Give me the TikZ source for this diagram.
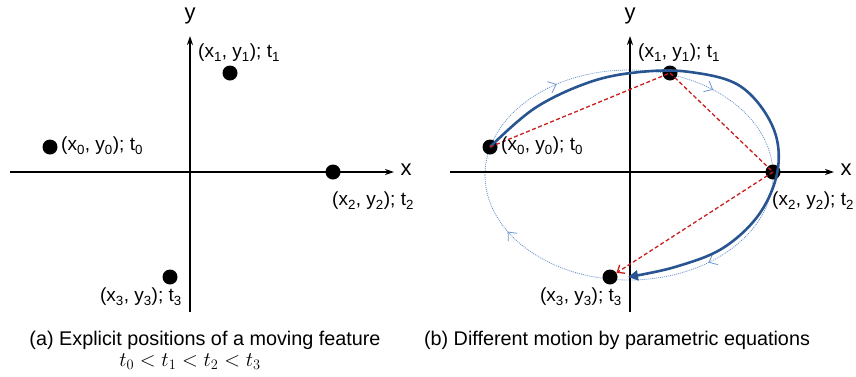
\documentclass[tikz,border=0pt]{standalone}
\usepackage{fontspec}
\setmainfont{Liberation Sans}
\usetikzlibrary{arrows.meta,decorations.markings}
\definecolor{bluethick}{RGB}{40,85,145}
\definecolor{bluethin}{RGB}{110,150,205}
\definecolor{reddash}{RGB}{200,30,30}
\newcommand{\sbs}[1]{\textsubscript{#1}}
\tikzset{
  axis/.style={line width=1.8pt,-{Stealth[length=9pt,width=6pt]}},
  dot/.style={circle,fill=black,inner sep=0pt,minimum size=15pt},
  lbl/.style={inner sep=0pt,font=\fontsize{19}{22}\selectfont},
  axlbl/.style={inner sep=0pt,font=\fontsize{22}{24}\selectfont},
  captext/.style={inner sep=0pt,font=\fontsize{19.8}{23}\selectfont},
  reddashed/.style={reddash,line width=1.3pt,dash pattern=on 4pt off 2.5pt},
  chev/.style={bluethin,line width=0.8pt},
}
\begin{document}
\begin{tikzpicture}[x=1pt,y=-1pt]
\useasboundingbox (0,0) rectangle (856,376);
% ---------- panel (a)
\coordinate (axL) at (10,172); \coordinate (axR) at (394,172);
\coordinate (ayB) at (190,312); \coordinate (ayT) at (190,36);
\draw[axis] (axL) -- (axR);
\draw[axis] (ayB) -- (ayT);
\node[axlbl] (xa) at (406,170) {x};
\node[axlbl] (ya) at (190,16) {y};
\node[dot] (a0) at (50,147) {};
\node[dot] (a1) at (230,73) {};
\node[dot] (a2) at (333,172) {};
\node[dot] (a3) at (170,277) {};
\node[lbl,anchor=west] (la0) at (61,146) {(x\sbs{0}, y\sbs{0}); t\sbs{0}};
\node[lbl,anchor=west] (la1) at (198,53) {(x\sbs{1}, y\sbs{1}); t\sbs{1}};
\node[lbl,anchor=west] (la2) at (332,201) {(x\sbs{2}, y\sbs{2}); t\sbs{2}};
\node[lbl,anchor=east] (la3) at (182,297) {(x\sbs{3}, y\sbs{3}); t\sbs{3}};
\node[captext] (capa) at (205,340) {(a) Explicit positions of a moving feature};
\node[inner sep=0pt,font=\fontsize{22.5}{25}\selectfont] (capa2) at (190,362) {$t_0<t_1<t_2<t_3$};
% ---------- panel (b)
\coordinate (bxL) at (450,172); \coordinate (bxR) at (834,172);
\coordinate (byB) at (630,312); \coordinate (byT) at (630,36);
% dotted ellipse
\draw[bluethin,line width=0.8pt,dash pattern=on 1pt off 1pt,
  postaction={decorate},
  decoration={markings,
    mark=at position 0.155 with {\draw[chev,solid] (-7pt,-6pt) -- (0,0) -- (-7pt,6pt);},
    mark=at position 0.36 with {\draw[chev,solid] (-7pt,-6pt) -- (0,0) -- (-7pt,6pt);},
    mark=at position 0.645 with {\draw[chev,solid] (-7pt,-6pt) -- (0,0) -- (-7pt,6pt);},
    mark=at position 0.92 with {\draw[chev,solid] (-7pt,-6pt) -- (0,0) -- (-7pt,6pt);}}]
  (485,175) arc[start angle=180,end angle=540,x radius=144,y radius=105];
\draw[axis] (bxL) -- (bxR);
\draw[axis] (byB) -- (byT);
\node[axlbl] (xb) at (846,170) {x};
\node[axlbl] (yb) at (630,16) {y};
\node[dot] (b0) at (490,147) {};
\node[dot] (b1) at (670,73) {};
\node[dot] (b2) at (773,172) {};
\node[dot] (b3) at (610,277) {};
% thick parametric curve
\draw[bluethick,line width=2.6pt,-{Triangle[length=10pt,width=10pt]}]
  plot[smooth,tension=0.6] coordinates {(490,147) (535,108) (590,82) (640,72) (690,72) (740,86) (772,125) (778,168) (760,213) (723,248) (675,267) (628,277)};
% red dashed
\draw[reddashed] (b0.center) -- (b1.center);
\draw[reddashed] (b1.center) -- (b2.center);
\draw[reddashed,-{Straight Barb[length=6pt,width=10pt]}] (b2.center) -- (b3);
\node[lbl,anchor=west] (lb0) at (501,146) {(x\sbs{0}, y\sbs{0}); t\sbs{0}};
\node[lbl,anchor=west] (lb1) at (638,53) {(x\sbs{1}, y\sbs{1}); t\sbs{1}};
\node[lbl,anchor=west] (lb2) at (772,201) {(x\sbs{2}, y\sbs{2}); t\sbs{2}};
\node[lbl,anchor=east] (lb3) at (622,297) {(x\sbs{3}, y\sbs{3}); t\sbs{3}};
\node[captext] (capb) at (617,340) {(b) Different motion by parametric equations};
\end{tikzpicture}
\end{document}
